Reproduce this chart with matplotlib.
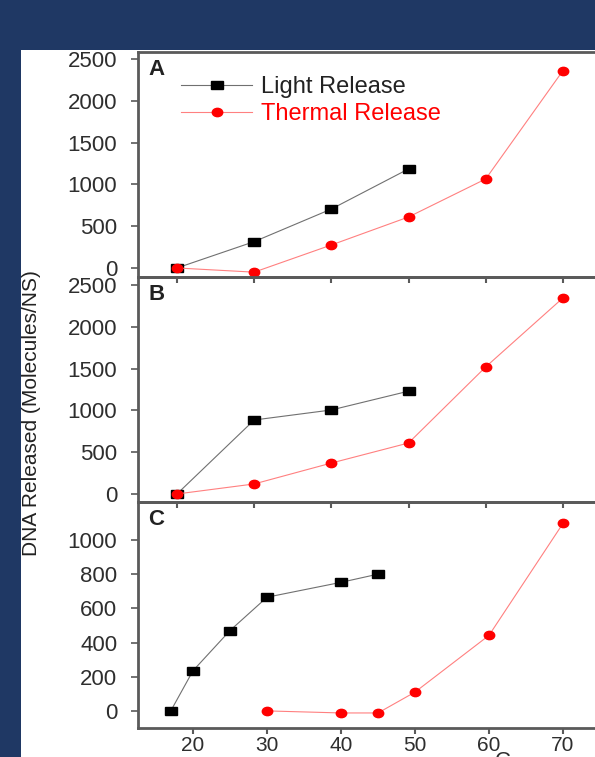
import matplotlib
matplotlib.use('Agg')
import matplotlib.pyplot as plt
from matplotlib.patches import Rectangle
from matplotlib.lines import Line2D
from matplotlib.markers import MarkerStyle
from matplotlib.transforms import Affine2D

plt.rcParams['font.family'] = ['Liberation Sans', 'DejaVu Sans']

# panel A
a_light_x = [20, 30, 40, 50]
a_light_y = [0, 315, 705, 1185]
a_thermal_x = [20, 30, 40, 50, 60, 70]
a_thermal_y = [0, -50, 275, 610, 1065, 2360]

# panel B
b_light_x = [20, 30, 40, 50]
b_light_y = [0, 885, 1005, 1230]
b_thermal_x = [20, 30, 40, 50, 60, 70]
b_thermal_y = [0, 120, 370, 610, 1520, 2345]

# panel C
c_light_x = [17, 20, 25, 30, 40, 45]
c_light_y = [0, 235, 470, 665, 752, 800]
c_thermal_x = [30, 40, 45, 50, 60, 70]
c_thermal_y = [0, -12, -12, 110, 442, 1097]

x_ticks = [20, 30, 40, 50, 60, 70]
ab_y_ticks = [0, 500, 1000, 1500, 2000, 2500]
c_y_ticks = [0, 200, 400, 600, 800, 1000]

W, H = 595, 757
navy = '#1f3864'
spine_col = '#5a5a5a'
tick_col = '#2e2e2e'

# the original picture is stretched sideways, so are its markers
sq_marker = MarkerStyle('s', transform=Affine2D().scale(1.6, 1.0))
dot_marker = MarkerStyle('o', transform=Affine2D().scale(1.25, 1.0))
light_style = dict(color='#707070', lw=0.8, marker=sq_marker, ms=5.2, mfc='black', mec='black')
thermal_style = dict(color='#ff8080', lw=0.8, marker=dot_marker, ms=6, mfc='red', mec='red')

fig = plt.figure(figsize=(W / 100, H / 100), dpi=100, facecolor=navy)
fig.patches.append(Rectangle((21 / W, 0), 1, 1 - 50 / H, transform=fig.transFigure,
                             facecolor='white', edgecolor='none', zorder=-5))


def make_axes(top_px, bottom_px):
    left, right = 138, 620
    ax = fig.add_axes([left / W, 1 - bottom_px / H, (right - left) / W, (bottom_px - top_px) / H])
    ax.set_facecolor('none')
    return ax


def style(ax, letter, show_xlabels):
    for s in ax.spines.values():
        s.set_color(spine_col)
        s.set_linewidth(2)
    ax.tick_params(axis='y', direction='out', length=5, width=1.2, color=spine_col,
                   labelsize=16, labelcolor=tick_col, pad=10)
    ax.tick_params(axis='x', direction='out', length=4, width=1.5, color=spine_col,
                   labelsize=15, labelcolor=tick_col, pad=2, labelbottom=show_xlabels)
    ax.set_xticks(x_ticks)
    ax.text(0.022, 0.97, letter, transform=ax.transAxes, fontsize=16, fontweight='bold',
            color='#222222', va='top', ha='left')


def draw(ax, lx, ly, tx, ty):
    ax.plot(lx, ly, zorder=3, **light_style)
    ax.plot(tx, ty, zorder=3, **thermal_style)


ax_a = make_axes(52, 277)
draw(ax_a, a_light_x, a_light_y, a_thermal_x, a_thermal_y)
ax_a.set_xlim(14.95, 77.4)
ax_a.set_ylim(-108, 2584)
ax_a.set_yticks(ab_y_ticks)
style(ax_a, 'A', False)

handles = [Line2D([], [], **light_style), Line2D([], [], **thermal_style)]
leg = ax_a.legend(handles, ['Light Release', 'Thermal Release'], loc='upper left',
                  bbox_to_anchor=(0.07, 0.935), frameon=False, fontsize=17,
                  handlelength=3.0, handletextpad=0.4, labelspacing=0.2, borderaxespad=0)
leg.get_texts()[0].set_color('#222222')
leg.get_texts()[1].set_color('red')

ax_b = make_axes(277, 502)
draw(ax_b, b_light_x, b_light_y, b_thermal_x, b_thermal_y)
ax_b.set_xlim(14.95, 77.4)
ax_b.set_ylim(-96, 2596)
ax_b.set_yticks(ab_y_ticks)
style(ax_b, 'B', False)

ax_c = make_axes(502, 728)
draw(ax_c, c_light_x, c_light_y, c_thermal_x, c_thermal_y)
ax_c.set_xlim(12.57, 77.7)
ax_c.set_ylim(-100, 1222)
ax_c.set_yticks(c_y_ticks)
style(ax_c, 'C', True)

fig.text(32 / W, 1 - 413 / H, 'DNA Released (Molecules/NS)', rotation=90, ha='center', va='center',
         fontsize=15, color='#222222', family=['Liberation Sans Narrow', 'Liberation Sans', 'DejaVu Sans'])
# bottom axis title is mostly cut off by the picture edge
fig.text(503 / W, 1 - 762 / H, 'C', ha='center', va='center', fontsize=16, color=tick_col)

fig.savefig('out.png', dpi=100, facecolor=navy)
